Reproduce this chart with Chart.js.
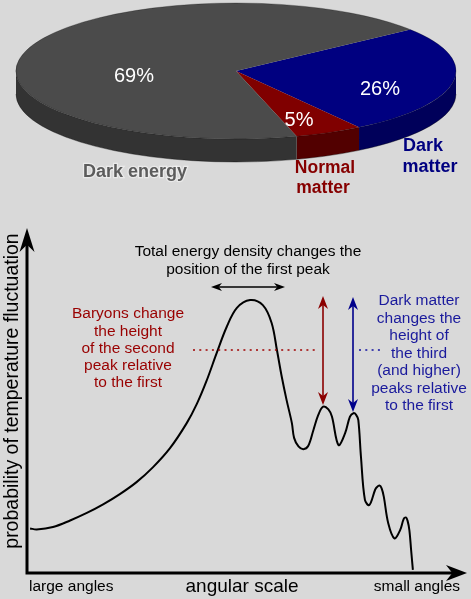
<!DOCTYPE html>
<html lang="en">
<head>
    <meta charset="UTF-8">
    <title>Universe content and the CMB peaks</title>
    <script src="https://cdn.jsdelivr.net/npm/chart.js"></script>
    <style>
        body {
            margin: 0;
            background: #d9d9d9;
            font-family: 'Liberation Sans', Arial, sans-serif;
        }
        .page {
            position: relative;
            width: 471px;
            height: 599px;
            overflow: hidden;
        }
        #pieChart { position: absolute; left: 0; top: 0; }
        #lineChart { position: absolute; left: 0; top: 200px; }
    </style>
</head>
<body>
<div class="page">
    <canvas id="pieChart" width="471" height="200"></canvas>
    <canvas id="lineChart" width="471" height="399"></canvas>
</div>

<script>
    // Pie: content of the universe (percent)
    const pieLabels = ['Dark matter', 'Normal matter', 'Dark energy'];
    const pieValues = [26, 5, 69];
    const pieTopColors = ['#000080', '#800000', '#4b4b4b'];
    const pieSideColors = ['#00005a', '#520000', '#333333'];

    // Power spectrum sketch (angular scale -> fluctuation), arbitrary units 0..100
    const curveX = [0.7, 2.2, 5.9, 9.8, 13.6, 17.3, 21.1, 24.9, 28.6, 32.5, 36.3, 38.6, 40.8, 43.1, 45.4,
        47.7, 50.7, 53.6, 55.6, 56.8, 57.9, 59.0, 60.2, 60.7, 61.7, 62.8, 63.9, 65.1, 66.2, 67.3, 68.5, 69.3,
        70.8, 72.3, 73.4, 74.2, 74.8, 75.3, 75.9, 76.8, 77.8, 79.1, 79.5, 80.1, 80.6, 81.1, 82.1,
        83.5, 84.8, 85.6, 86.1, 86.5, 86.9, 87.3, 87.7];
    const curveY = [13.0, 12.7, 13.4, 15.3, 17.5, 20.0, 23.0, 26.5, 30.8, 36.4, 43.7, 49.3, 56.0, 64.1, 71.8,
        77.3, 79.6, 78.1, 72.9, 65.0, 57.2, 50.4, 43.7, 39.4, 36.9, 36.1, 37.0, 41.7, 46.1, 48.5, 47.7, 45.6,
        37.3, 40.8, 45.6, 46.6, 46.1, 44.6, 33.9, 21.3, 19.8, 24.2, 25.0, 25.5, 24.7, 22.2, 14.5,
        10.1, 12.5, 15.7, 16.2, 15.2, 12.5, 6.7, 0.9];

    const FONT = '"Liberation Sans", Arial, sans-serif';

    // ---------- 3D pie ----------
    const PIE = { cx: 236, cy: 71, rx: 220, ry: 68, depth: 23 };

    const pie3d = {
        id: 'pie3d',
        beforeDatasetsDraw(chart) {
            const ctx = chart.ctx;
            const arcs = chart.getDatasetMeta(0).data;

            // side walls: only the front half (0..PI) shows
            arcs.forEach((arc, i) => {
                for (const k of [-2 * Math.PI, 0, 2 * Math.PI]) {
                    const lo = Math.max(arc.startAngle, k);
                    const hi = Math.min(arc.endAngle, k + Math.PI);
                    if (lo >= hi) continue;
                    ctx.beginPath();
                    ctx.ellipse(PIE.cx, PIE.cy, PIE.rx, PIE.ry, 0, lo, hi, false);
                    ctx.ellipse(PIE.cx, PIE.cy + PIE.depth, PIE.rx, PIE.ry, 0, hi, lo, true);
                    ctx.closePath();
                    ctx.fillStyle = pieSideColors[i];
                    ctx.fill();
                }
            });
            ctx.beginPath();
            ctx.ellipse(PIE.cx, PIE.cy + PIE.depth, PIE.rx, PIE.ry, 0, 0, Math.PI, false);
            ctx.strokeStyle = 'rgba(0,0,0,0.35)';
            ctx.lineWidth = 1;
            ctx.stroke();

            // squash the flat pie into the tilted top face
            const a = arcs[0];
            ctx.save();
            ctx.translate(PIE.cx, PIE.cy);
            ctx.scale(PIE.rx / a.outerRadius, PIE.ry / a.outerRadius);
            ctx.translate(-a.x, -a.y);
        },
        afterDatasetsDraw(chart) {
            const ctx = chart.ctx;
            ctx.restore();

            ctx.beginPath();
            ctx.ellipse(PIE.cx, PIE.cy, PIE.rx, PIE.ry, 0, 0, 2 * Math.PI);
            ctx.strokeStyle = 'rgba(0,0,0,0.25)';
            ctx.lineWidth = 1;
            ctx.stroke();

            ctx.save();
            ctx.textAlign = 'center';
            ctx.textBaseline = 'middle';

            // percentages on the top face
            ctx.fillStyle = '#ffffff';
            ctx.font = '20px ' + FONT;
            const pctPos = [[380, 89], [299, 120], [134, 76]];
            pieValues.forEach((v, i) => ctx.fillText(v + '%', pctPos[i][0], pctPos[i][1]));

            // category names
            ctx.font = 'bold 18px ' + FONT;
            ctx.lineWidth = 2.5;
            ctx.strokeStyle = 'rgba(255,255,255,0.45)';
            ctx.strokeText('Dark energy', 135, 172);
            ctx.fillStyle = '#5c5c5c';
            ctx.fillText('Dark energy', 135, 172);

            ctx.font = 'bold 17.5px ' + FONT;
            ctx.fillStyle = '#860000';
            ctx.fillText('Normal', 325, 168);
            ctx.fillText('matter', 323, 188);

            ctx.font = 'bold 18px ' + FONT;
            ctx.fillStyle = '#000080';
            ctx.fillText('Dark', 423, 146);
            ctx.fillText('matter', 430, 167);
            ctx.restore();
        }
    };

    new Chart(document.getElementById('pieChart'), {
        type: 'pie',
        data: {
            labels: pieLabels,
            datasets: [{
                data: pieValues,
                backgroundColor: pieTopColors,
                borderWidth: 0,
                clip: false
            }]
        },
        options: {
            responsive: false,
            animation: false,
            rotation: 52.4,
            layout: { padding: 0 },
            plugins: { legend: { display: false }, tooltip: { enabled: false } }
        },
        plugins: [pie3d]
    });

    // ---------- power spectrum sketch ----------
    const TOP = 200; // canvas offset on the page

    function arrowHead(ctx, x, y, angle, len, half, color) {
        ctx.save();
        ctx.translate(x, y);
        ctx.rotate(angle);
        ctx.beginPath();
        ctx.moveTo(0, 0);
        ctx.lineTo(-len, -half);
        ctx.lineTo(-len * 0.7, 0);
        ctx.lineTo(-len, half);
        ctx.closePath();
        ctx.fillStyle = color;
        ctx.fill();
        ctx.restore();
    }

    function doubleArrow(ctx, x1, y1, x2, y2, color, len, half) {
        const ang = Math.atan2(y2 - y1, x2 - x1);
        ctx.beginPath();
        ctx.moveTo(x1 + Math.cos(ang) * len * 0.7, y1 + Math.sin(ang) * len * 0.7);
        ctx.lineTo(x2 - Math.cos(ang) * len * 0.7, y2 - Math.sin(ang) * len * 0.7);
        ctx.strokeStyle = color;
        ctx.lineWidth = 1.6;
        ctx.stroke();
        arrowHead(ctx, x2, y2, ang, len, half, color);
        arrowHead(ctx, x1, y1, ang + Math.PI, len, half, color);
    }

    function textLines(ctx, lines, x, y, step) {
        lines.forEach((t, i) => ctx.fillText(t, x, y + i * step));
    }

    const axesAndNotes = {
        id: 'axesAndNotes',
        afterDraw(chart) {
            const ctx = chart.ctx;
            const area = chart.chartArea;
            const y0 = chart.scales.y.getPixelForValue(0);
            const x0 = chart.scales.x.getPixelForValue(0);
            ctx.save();

            // axes with arrows
            ctx.strokeStyle = '#000';
            ctx.lineWidth = 3;
            ctx.beginPath();
            ctx.moveTo(x0, y0 + 1.5);
            ctx.lineTo(x0, area.top + 14);
            ctx.moveTo(x0 - 1.5, y0);
            ctx.lineTo(area.right - 14, y0);
            ctx.stroke();
            arrowHead(ctx, x0, area.top - 2, -Math.PI / 2, 24, 7.5, '#000');
            arrowHead(ctx, area.right, y0, 0, 21, 8, '#000');

            ctx.textAlign = 'center';
            ctx.textBaseline = 'middle';

            // axis titles
            ctx.fillStyle = '#000';
            ctx.font = '19px ' + FONT;
            ctx.fillText('angular scale', 242, 587 - TOP);
            ctx.font = '15.5px ' + FONT;
            ctx.textAlign = 'left';
            ctx.fillText('large angles', 29, 587 - TOP);
            ctx.textAlign = 'right';
            ctx.fillText('small angles', 460, 587 - TOP);
            ctx.textAlign = 'center';

            ctx.save();
            ctx.translate(13, 391 - TOP);
            ctx.rotate(-Math.PI / 2);
            ctx.font = '19.5px ' + FONT;
            ctx.fillText('probability of temperature fluctuation', 0, 0);
            ctx.restore();

            // first peak position note
            ctx.font = '15.5px ' + FONT;
            ctx.fillStyle = '#000';
            textLines(ctx, ['Total energy density changes the', 'position of the first peak'], 248, 252 - TOP, 17.3);
            doubleArrow(ctx, 211, 287 - TOP, 285, 287 - TOP, '#000', 11, 4);

            // baryons note
            ctx.fillStyle = '#990000';
            textLines(ctx, ['Baryons change', 'the height', 'of the second', 'peak relative', 'to the first'],
                128, 314 - TOP, 17.3);
            ctx.save();
            ctx.setLineDash([2, 4.3]);
            ctx.lineWidth = 1.6;
            ctx.strokeStyle = '#a00000';
            ctx.beginPath();
            ctx.moveTo(193, 350 - TOP);
            ctx.lineTo(319, 350 - TOP);
            ctx.stroke();
            ctx.strokeStyle = '#1010a0';
            ctx.beginPath();
            ctx.moveTo(359, 350 - TOP);
            ctx.lineTo(382, 350 - TOP);
            ctx.stroke();
            ctx.restore();
            doubleArrow(ctx, 323, 296 - TOP, 323, 405 - TOP, '#8b0000', 13, 5);

            // dark matter note
            doubleArrow(ctx, 353, 297 - TOP, 353, 412 - TOP, '#00008b', 13, 5);
            ctx.fillStyle = '#1a1a9c';
            textLines(ctx, ['Dark matter', 'changes the', 'height of', 'the third', '(and higher)',
                'peaks relative', 'to the first'], 419, 301 - TOP, 17.5);

            ctx.restore();
        }
    };

    new Chart(document.getElementById('lineChart'), {
        type: 'line',
        data: {
            datasets: [{
                data: curveX.map((x, i) => ({ x: x, y: curveY[i] })),
                borderColor: '#000',
                borderWidth: 2,
                pointRadius: 0,
                tension: 0.35,
                fill: false,
                clip: false
            }]
        },
        options: {
            responsive: false,
            animation: false,
            layout: { padding: { left: 27, right: 4, top: 30, bottom: 26 } },
            scales: {
                x: { type: 'linear', min: 0, max: 100, display: false },
                y: { min: 0, max: 100, display: false }
            },
            plugins: { legend: { display: false }, tooltip: { enabled: false } }
        },
        plugins: [axesAndNotes]
    });
</script>
</body>
</html>
